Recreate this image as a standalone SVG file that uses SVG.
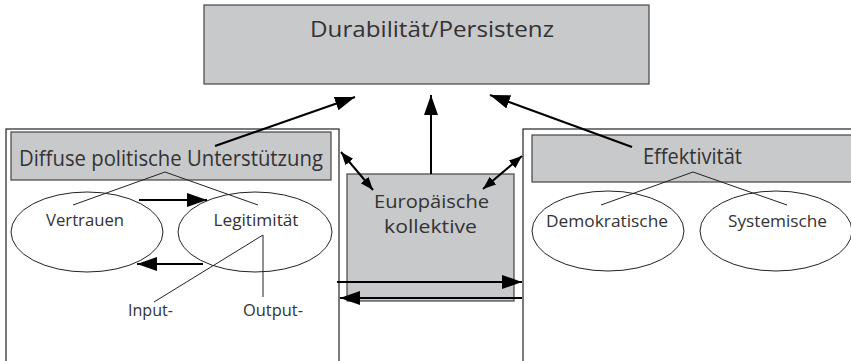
<svg xmlns="http://www.w3.org/2000/svg" width="851" height="361" viewBox="0 0 851 361">
<style>
text{font-family:"Open Sans","Liberation Sans",sans-serif;fill:#333;}
.box{fill:#fff;stroke:#222;stroke-width:1.2;}
.gray{fill:#c8c9cb;stroke:#444;stroke-width:1.2;}
.ell{fill:none;stroke:#222;stroke-width:1;}
.thin{stroke:#222;stroke-width:1;fill:none;}
.arr{stroke:#000;stroke-width:2;fill:none;}
.title{font-size:22.5px;}
.big{font-size:21px;}
.mid{font-size:18.5px;}
.sm{font-size:17px;}
</style>
<defs>
<marker id="ah" markerUnits="userSpaceOnUse" markerWidth="22" markerHeight="16" refX="20" refY="7" orient="auto">
<path d="M0,0 L20,7 L0,14 z" fill="#000"/>
</marker>
<marker id="as" markerUnits="userSpaceOnUse" markerWidth="14" markerHeight="12" refX="13" refY="5" orient="auto-start-reverse">
<path d="M0,0 L13,5 L0,10 z" fill="#000"/>
</marker>
</defs>
<g id="durabilitaet">
<rect class="gray" x="204" y="5" width="445" height="79"/>
<text class="title" x="432" y="37" text-anchor="middle" textLength="244" lengthAdjust="spacingAndGlyphs">Durabilität/Persistenz</text>
</g>
<g id="left-panel">
<rect class="box" x="6" y="129" width="333" height="240"/>
<rect class="gray" x="11" y="132" width="320" height="48"/>
<text class="big" x="171" y="166" text-anchor="middle" textLength="304" lengthAdjust="spacingAndGlyphs">Diffuse politische Unterstützung</text>
</g>
<g id="vertrauen">
<ellipse class="ell" cx="87" cy="232" rx="76" ry="40"/>
<text class="sm" x="85" y="226" text-anchor="middle" textLength="78" lengthAdjust="spacingAndGlyphs">Vertrauen</text>
</g>
<g id="legitimitaet">
<ellipse class="ell" cx="255" cy="232" rx="77" ry="40"/>
<text class="sm" x="256" y="226" text-anchor="middle" textLength="85" lengthAdjust="spacingAndGlyphs">Legitimität</text>
</g>
<g id="input"><text class="sm" x="150.5" y="316" text-anchor="middle" textLength="45" lengthAdjust="spacingAndGlyphs">Input-</text></g>
<g id="output"><text class="sm" x="273" y="316" text-anchor="middle" textLength="60" lengthAdjust="spacingAndGlyphs">Output-</text></g>
<g id="right-panel">
<rect class="box" x="523" y="129" width="340" height="240"/>
<rect class="gray" x="532" y="135" width="330" height="47"/>
<text class="big" x="692.5" y="164" text-anchor="middle" textLength="99" lengthAdjust="spacingAndGlyphs">Effektivität</text>
</g>
<g id="demokratische">
<ellipse class="ell" cx="608" cy="231" rx="76" ry="40"/>
<text class="sm" x="607" y="227" text-anchor="middle" textLength="122" lengthAdjust="spacingAndGlyphs">Demokratische</text>
</g>
<g id="systemische">
<ellipse class="ell" cx="776" cy="231" rx="76" ry="40"/>
<text class="sm" x="777.5" y="227" text-anchor="middle" textLength="99" lengthAdjust="spacingAndGlyphs">Systemische</text>
</g>
<g id="europaeische">
<rect class="gray" x="347" y="174" width="167" height="127"/>
<text class="mid" x="431.5" y="208" text-anchor="middle" textLength="115" lengthAdjust="spacingAndGlyphs">Europäische</text>
<text class="mid" x="430.5" y="233" text-anchor="middle" textLength="93" lengthAdjust="spacingAndGlyphs">kollektive</text>
</g>
<g id="connectors">
<path class="thin" d="M73,205 L165,172 L258,205"/>
<path class="thin" d="M601,205 L693,172 L787,205"/>
<path class="thin" d="M154,302 L263,235 L263,297"/>
<line class="arr" x1="139" y1="200" x2="207" y2="200" marker-end="url(#ah)"/>
<line class="arr" x1="203" y1="264" x2="137" y2="264" marker-end="url(#ah)"/>
<line class="arr" x1="215" y1="146" x2="355" y2="97" marker-end="url(#ah)"/>
<line class="arr" x1="431" y1="174" x2="431" y2="95" marker-end="url(#ah)"/>
<line class="arr" x1="632" y1="147" x2="490" y2="95" marker-end="url(#ah)"/>
<line class="arr" x1="341" y1="152" x2="373" y2="190" stroke-width="1.5" marker-start="url(#as)" marker-end="url(#as)"/>
<line class="arr" x1="522" y1="156" x2="483" y2="189" stroke-width="1.5" marker-start="url(#as)" marker-end="url(#as)"/>
<line class="arr" x1="337" y1="282" x2="522" y2="282" marker-end="url(#ah)"/>
<line class="arr" x1="522" y1="298" x2="340" y2="298" marker-end="url(#ah)"/>
</g>
</svg>
